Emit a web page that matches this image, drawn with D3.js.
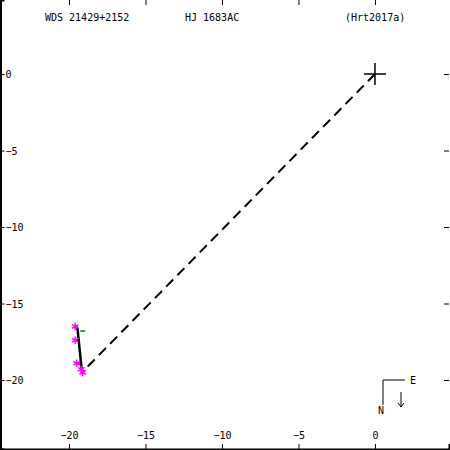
<!DOCTYPE html>
<html>
<head>
<meta charset="utf-8">
<script src="https://cdn.jsdelivr.net/npm/d3@7"></script>
<style>
  body { margin: 0; background: #fff; }
  text { font-family: "DejaVu Sans Mono", monospace; font-size: 10px; }
</style>
</head>
<body>
<div id="chart"></div>
<script>
var width = 450, height = 450;

// header labels
var titles = ["WDS 21429+2152", "HJ 1683AC", "(Hrt2017a)"];
var titleX = [45, 185, 345];

// tick values (arcsec)
var ticks = [-20, -15, -10, -5, 0];

// measured positions (x, y in arcsec)
var obsX = [-19.6, -19.6, -19.5, -19.2, -19.1];
var obsY = [-16.5, -17.4, -18.9, -19.3, -19.5];

// orbit residual points (on the fitted path)
var fitX = [-19.42, -19.37, -19.25, -19.18, -19.15];

// fitted path ends
var pathX = [-19.45, -19.15];
var pathY = [-16.6, -19.5];

// predicted mark
var predX = [-19.2];
var predY = [-16.8];

var x = d3.scaleLinear().domain([-24.51, 4.84]).range([0, 449]);
var y = d3.scaleLinear().domain([4.84, -24.51]).range([0, 449]);

var svg = d3.select("#chart")
    .append("svg")
    .attr("width", width)
    .attr("height", height);

// axes
var bottomAxis = svg.append("g")
    .attr("transform", "translate(0,449)")
    .call(d3.axisTop(x).tickValues(ticks).tickSize(5).tickPadding(5));

var leftAxis = svg.append("g")
    .attr("transform", "translate(0.5,0)")
    .call(d3.axisRight(y).tickValues(ticks).tickSize(4).tickPadding(1));
leftAxis.selectAll("text").attr("dy", "0.35em");

var topAxis = svg.append("g")
    .attr("transform", "translate(0,0)")
    .call(d3.axisBottom(x).tickValues(ticks).tickSize(5).tickFormat(""));
topAxis.select(".domain").remove();

var rightAxis = svg.append("g")
    .attr("transform", "translate(449,0)")
    .call(d3.axisLeft(y).tickValues(ticks).tickSize(5).tickFormat(""));
rightAxis.select(".domain").remove();

svg.selectAll(".domain").attr("stroke-width", 2);
svg.selectAll(".tick text").attr("font-family", "DejaVu Sans Mono, monospace").attr("font-size", 10).attr("fill", "#000");

// header
svg.selectAll(".title")
    .data(titles)
    .enter()
    .append("text")
    .attr("class", "title")
    .attr("x", function (d, i) { return titleX[i]; })
    .attr("y", 21)
    .text(function (d) { return d; });

// dashed line from primary to companion
svg.append("line")
    .attr("x1", x(0)).attr("y1", y(0))
    .attr("x2", x(pathX[1])).attr("y2", y(pathY[1]))
    .attr("stroke", "#000")
    .attr("stroke-width", 2)
    .attr("stroke-dasharray", "10,6");

// primary cross
svg.append("path")
    .attr("d", "M" + (x(0) - 11) + "," + y(0) + "h22M" + x(0) + "," + (y(0) - 11) + "v22")
    .attr("stroke", "#000")
    .attr("stroke-width", 1.5);

// residual lines
svg.selectAll(".res")
    .data(obsX)
    .enter()
    .append("line")
    .attr("class", "res")
    .attr("x1", function (d) { return x(d); })
    .attr("y1", function (d, i) { return y(obsY[i]); })
    .attr("x2", function (d, i) { return x(fitX[i]); })
    .attr("y2", function (d, i) { return y(obsY[i]); })
    .attr("stroke", "red")
    .attr("stroke-width", 1.5);

// fitted path
svg.append("line")
    .attr("x1", x(pathX[0])).attr("y1", y(pathY[0]))
    .attr("x2", x(pathX[1])).attr("y2", y(pathY[1]))
    .attr("stroke", "#000")
    .attr("stroke-width", 2.5);

// predicted mark
svg.selectAll(".pred")
    .data(predX)
    .enter()
    .append("line")
    .attr("class", "pred")
    .attr("x1", function (d) { return x(d) - 1; })
    .attr("x2", function (d) { return x(d) + 4; })
    .attr("y1", function (d, i) { return y(predY[i]); })
    .attr("y2", function (d, i) { return y(predY[i]); })
    .attr("stroke", "green")
    .attr("stroke-width", 1.5);

// observations
var star = d3.symbol().type(d3.symbolAsterisk).size(40);
svg.selectAll(".obs")
    .data(obsX)
    .enter()
    .append("path")
    .attr("class", "obs")
    .attr("d", star)
    .attr("transform", function (d, i) { return "translate(" + x(d) + "," + y(obsY[i]) + ")"; })
    .attr("stroke", "magenta")
    .attr("stroke-width", 1.5)
    .attr("fill", "none");

// compass
var cx = 383, cy = 380;
svg.append("path")
    .attr("d", "M" + (cx + 22) + "," + cy + "H" + cx + "V" + (cy + 25))
    .attr("stroke", "#000")
    .attr("fill", "none");
svg.append("text").attr("x", cx + 27).attr("y", cy + 4).text("E");
svg.append("text").attr("x", cx - 5).attr("y", cy + 34).text("N");
svg.append("path")
    .attr("d", "M" + (cx + 18) + "," + (cy + 12) + "v15m-3,-4l3,4l3,-4")
    .attr("stroke", "#000")
    .attr("fill", "none");
</script>
</body>
</html>
